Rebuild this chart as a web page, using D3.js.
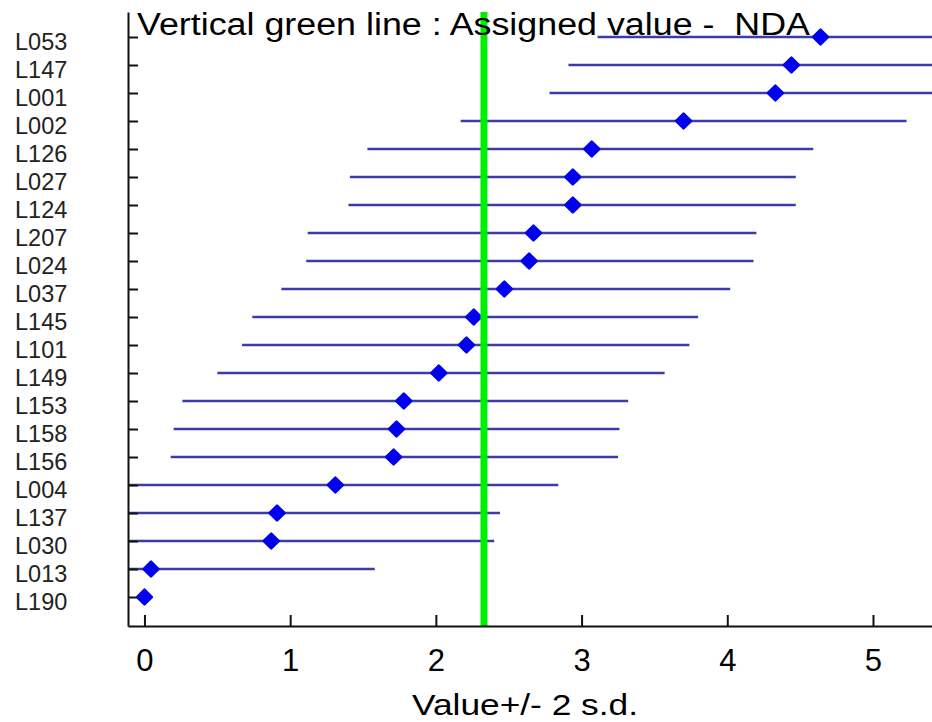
<!DOCTYPE html>
<html>
<head>
<meta charset="utf-8">
<script src="https://cdn.jsdelivr.net/npm/d3@7"></script>
<style>
  body { margin: 0; background: #fff; }
  text { font-family: Arial, "Liberation Sans", sans-serif; }
</style>
</head>
<body>
<div id="chart"></div>
<script>
const labs = ["L053","L147","L001","L002","L126","L027","L124","L207","L024","L037","L145",
              "L101","L149","L153","L158","L156","L004","L137","L030","L013","L190"];
const values = [4.64,4.44,4.33,3.70,3.07,2.94,2.94,2.67,2.64,2.47,2.26,
                2.21,2.02,1.78,1.73,1.71,1.31,0.91,0.87,0.045,0.0];
const lower = [3.11,2.91,2.78,2.17,1.53,1.41,1.40,1.12,1.11,0.94,0.74,
               0.67,0.50,0.26,0.20,0.18,-0.22,-0.62,-0.66,-1.48,0.0];
const upper = [6.17,5.98,5.87,5.23,4.59,4.47,4.47,4.20,4.18,4.02,3.80,
               3.74,3.57,3.32,3.26,3.25,2.84,2.44,2.40,1.58,0.0];
const assigned = 2.33;
const xTicks = [0,1,2,3,4,5];

const W = 932, H = 722;
const plotL = 128, plotT = 12, plotB = 626, plotR = 932;

const svg = d3.select("#chart").append("svg")
    .attr("width", W).attr("height", H);

const x = d3.scaleLinear().domain([-0.113, 5.405]).range([plotL, plotR]);
const y = d3.scalePoint().domain(labs).range([plotT, plotB]).padding(0.964).align(0.463);

svg.append("clipPath").attr("id", "plot")
  .append("rect").attr("x", plotL).attr("y", 0).attr("width", plotR - plotL).attr("height", plotB);

const rows = labs.map((l, i) => ({lab: l, v: values[i], lo: lower[i], hi: upper[i]}));

// error bars
svg.append("g").attr("clip-path", "url(#plot)")
  .selectAll(".bar")
  .data(rows.filter(d => d.hi > d.lo))
  .enter().append("line")
    .attr("class", "bar")
    .attr("x1", d => x(d.lo))
    .attr("x2", d => x(d.hi))
    .attr("y1", d => y(d.lab))
    .attr("y2", d => y(d.lab))
    .attr("stroke", "#3c3ca8")
    .attr("stroke-width", 2.5);

// points
svg.append("g").selectAll(".pt")
  .data(rows)
  .enter().append("path")
    .attr("class", "pt")
    .attr("d", d3.symbol(d3.symbolSquare, 110))
    .attr("transform", d => `translate(${x(d.v)},${y(d.lab)}) rotate(45)`)
    .attr("fill", "#0000ee")
    .attr("stroke", "#0000ee")
    .attr("stroke-width", 2.5)
    .attr("stroke-linejoin", "round");

// assigned value line
svg.append("line")
    .attr("x1", x(assigned)).attr("x2", x(assigned))
    .attr("y1", plotT).attr("y2", plotB)
    .attr("stroke", "#00ee00")
    .attr("stroke-width", 7);

// axes
const yAxis = svg.append("g")
    .attr("transform", `translate(${plotL},0)`)
    .call(d3.axisLeft(y).tickSize(-10).tickSizeOuter(0));
yAxis.select(".domain").attr("stroke", "#111").attr("stroke-width", 2);
yAxis.selectAll(".tick line").attr("stroke", "#111").attr("stroke-width", 2);
yAxis.selectAll(".tick text")
    .attr("text-anchor", "start")
    .attr("x", 15 - plotL)
    .attr("dy", "0.53em")
    .attr("font-size", 23.5)
    .attr("fill", "#222");

const xAxis = svg.append("g")
    .attr("transform", `translate(0,${plotB})`)
    .call(d3.axisBottom(x).tickValues(xTicks).tickSize(-11).tickSizeOuter(0).tickPadding(23)
          .tickFormat(d3.format("d")));
xAxis.select(".domain").attr("stroke", "#111").attr("stroke-width", 2);
xAxis.selectAll(".tick line").attr("stroke", "#111").attr("stroke-width", 2);
xAxis.selectAll(".tick text")
    .attr("font-size", 31)
    .attr("fill", "#000");

svg.append("text")
    .attr("x", 412).attr("y", 715)
    .attr("font-size", 29)
    .attr("textLength", 226)
    .attr("lengthAdjust", "spacingAndGlyphs")
    .text("Value+/- 2 s.d.");

svg.append("text")
    .attr("x", 137).attr("y", 35)
    .attr("font-size", 31)
    .attr("textLength", 673)
    .attr("lengthAdjust", "spacingAndGlyphs")
    .style("white-space", "pre")
    .text("Vertical green line : Assigned value -  NDA");
</script>
</body>
</html>
